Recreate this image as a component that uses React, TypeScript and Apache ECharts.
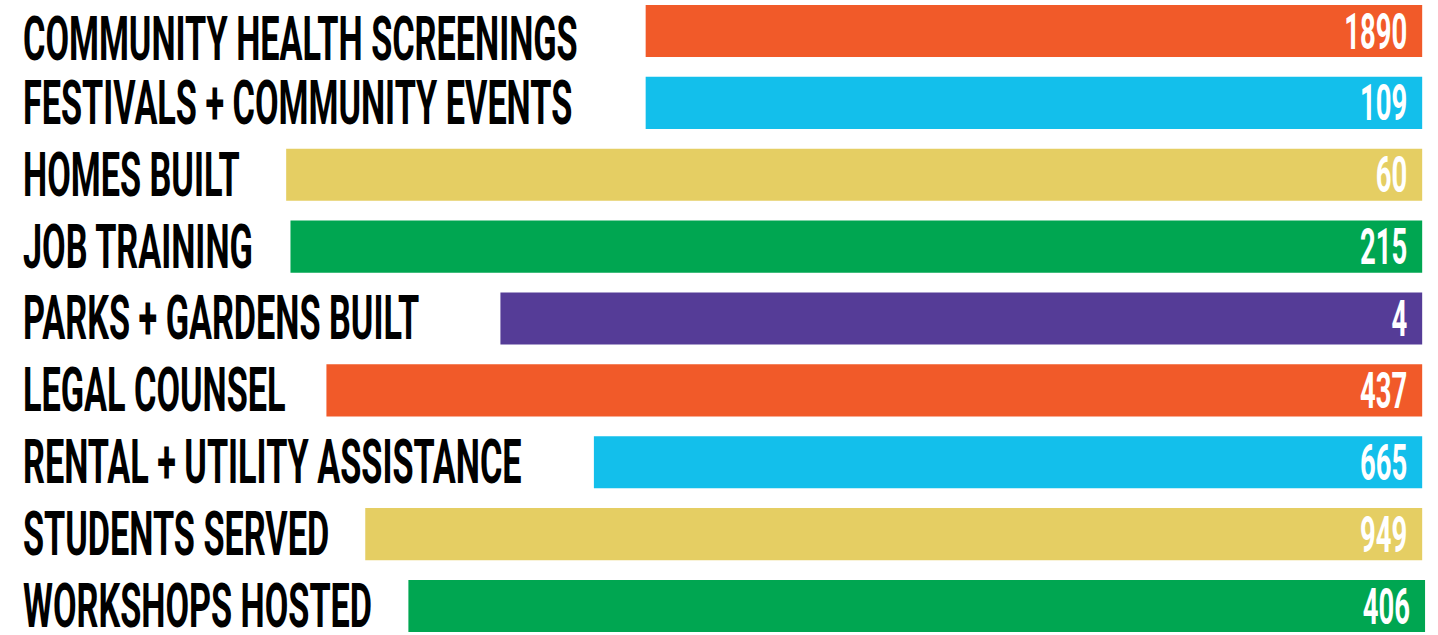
import React, { useEffect, useRef } from "react";
import * as echarts from "echarts";

const categories = [
  "COMMUNITY HEALTH SCREENINGS",
  "FESTIVALS + COMMUNITY EVENTS",
  "HOMES BUILT",
  "JOB TRAINING",
  "PARKS + GARDENS BUILT",
  "LEGAL COUNSEL",
  "RENTAL + UTILITY ASSISTANCE",
  "STUDENTS SERVED",
  "WORKSHOPS HOSTED",
];
const values = [1890, 109, 60, 215, 4, 437, 665, 949, 406];
// where each coloured band begins / ends, on a 0–100 track
const barStart = [44.9, 44.9, 19.9, 20.2, 34.8, 22.7, 41.3, 25.4, 28.4];
const barEnd = [98.9, 98.9, 98.9, 98.9, 98.9, 98.9, 98.9, 98.9, 99.1];
const palette = ["#F15A29", "#13BFEB", "#E5CE63", "#00A651", "#553C97"];

const FONT_FAMILY = "'Liberation Sans Narrow', 'Roboto', sans-serif";
const LABEL_SIZE = 61;
const VALUE_SIZE = 49;

function measure(text: string, font: string): number {
  const c = document.createElement("canvas");
  const ctx = c.getContext("2d")!;
  ctx.font = font;
  return ctx.measureText(text).width;
}

export default function App() {
  const ref = useRef<HTMLDivElement>(null);
  useEffect(() => {
    if (!ref.current) return;
    const chart = echarts.init(ref.current, null, { renderer: "svg" });
    const labelFont = `bold ${LABEL_SIZE}px ${FONT_FAMILY}`;
    const valueFont = `bold ${VALUE_SIZE}px ${FONT_FAMILY}`;
    const labelScale = 555 / measure(categories[0], labelFont);
    const valueScale = 63 / measure(String(values[0]), valueFont);

    const data = categories.map((c, i) => [i, barStart[i], barEnd[i], values[i]]);

    chart.setOption({
      animation: false,
      backgroundColor: "#ffffff",
      grid: { left: 0, right: 0, top: 0, bottom: 0 },
      xAxis: { type: "value", min: 0, max: 100, show: false },
      yAxis: { type: "category", data: categories, inverse: true, show: false },
      series: [
        {
          type: "custom",
          encode: { x: [1, 2], y: 0 },
          data,
          renderItem: (params: any, api: any) => {
            const idx = api.value(0);
            const s = api.coord([api.value(1), idx]);
            const e = api.coord([api.value(2), idx]);
            const band = api.size([0, 1])[1];
            const h = band * 0.725;
            const lp = api.coord([1.6, idx]);
            const dy = idx === 0 ? 8 : 0;
            return {
              type: "group",
              children: [
                {
                  type: "rect",
                  shape: { x: s[0], y: s[1] - h / 2, width: e[0] - s[0], height: h },
                  style: { fill: palette[idx % palette.length] },
                },
                {
                  type: "text",
                  x: lp[0],
                  y: lp[1] + dy,
                  scaleX: labelScale,
                  style: {
                    text: categories[idx],
                    font: labelFont,
                    fill: "#000000",
                    align: "left",
                    verticalAlign: "middle",
                  },
                },
                {
                  type: "text",
                  x: e[0] - 15,
                  y: e[1] + 1,
                  scaleX: valueScale,
                  style: {
                    text: String(api.value(3)),
                    font: valueFont,
                    fill: "#ffffff",
                    align: "right",
                    verticalAlign: "middle",
                  },
                },
              ],
            };
          },
        },
      ],
    });
    return () => chart.dispose();
  }, []);
  return (
    <div
      style={{
        position: "absolute",
        left: 0,
        top: 0,
        width: 1438,
        height: 635,
        overflow: "hidden",
        background: "#ffffff",
      }}
    >
      <div
        ref={ref}
        style={{ position: "absolute", left: 0, top: -5, width: 1438, height: 647 }}
      />
    </div>
  );
}
